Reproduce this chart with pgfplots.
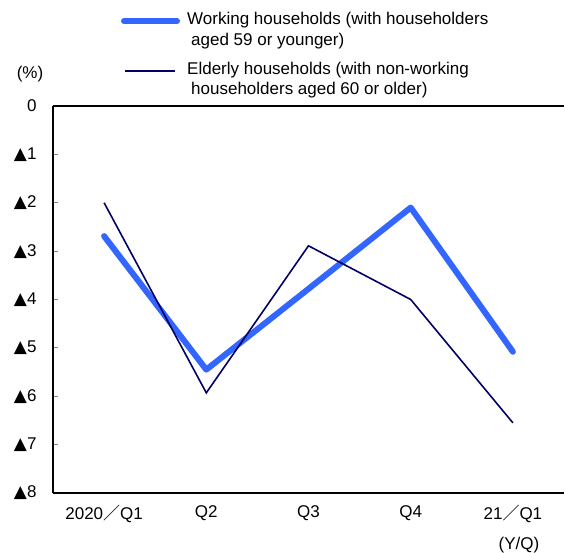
\documentclass[border=0pt]{standalone}
\usepackage{fontspec}
\setmainfont{Liberation Sans}
\newfontfamily\symfont{DejaVu Sans}
\newfontfamily\cjk{Noto Sans CJK JP}
\usepackage{pgfplots}
\pgfplotsset{compat=1.18}
\definecolor{workblue}{RGB}{51,102,255}
\definecolor{eldnavy}{RGB}{0,0,102}
\newcommand{\tri}{{\symfont\fontsize{17}{17}\selectfont ▲}}
\newcommand{\fs}{{\cjk ／}}

\begin{document}
\begin{tikzpicture}[x=1pt,y=1pt,font=\fontsize{17}{20}\selectfont]
\useasboundingbox (0,0) rectangle (565,552);
\begin{axis}[
  at={(53pt,59pt)}, anchor=south west,
  scale only axis, width=511pt, height=387pt,
  xmin=-0.5, xmax=4.5, ymin=-8, ymax=0,
  axis y line*=left,
  axis line style={line width=1.2pt},
  xtick={0,...,4},
  xticklabels={2020\fs Q1,Q2,Q3,Q4,21\fs Q1},
  major x tick style={draw=none},
  extra x ticks={-0.5,0.5,1.5,2.5,3.5,4.5},
  extra x tick labels={},
  extra x tick style={tick align=outside, major tick length=5pt,
    major tick style={line width=1.2pt, draw=black}},
  xtick pos=bottom,
  xticklabel style={font=\fontsize{17}{20}\selectfont, yshift=-9pt},
  ytick={-8,...,0},
  yticklabels={\tri8,\tri7,\tri6,\tri5,\tri4,\tri3,\tri2,\tri1,0},
  ytick pos=left,
  ytick align=inside,
  major tick length=5pt,
  major y tick style={line width=1.2pt},
  yticklabel style={font=\fontsize{17}{20}\selectfont, xshift=-13pt},
  clip=false,
]
% Working households (householders aged 59 or younger)
\addplot[workblue, line width=6pt, line cap=round, line join=round] coordinates {
  (0,-2.69) (1,-5.45) (2,-3.78) (3,-2.10) (4,-5.08)};
% Elderly households (non-working householders aged 60 or older)
\addplot[eldnavy, line width=1.6pt, line join=miter] coordinates {
  (0,-2.00) (1,-5.93) (2,-2.89) (3,-4.00) (4,-6.55)};
\node[anchor=center] at (axis cs:4.06,-8) [yshift=-52pt] {(Y/Q)};
\end{axis}
% legend
\draw[workblue, line width=6pt, line cap=round] (124,531) -- (177,531);
\draw[eldnavy, line width=1.8pt] (125,481) -- (175,481);
\node[anchor=base west, inner sep=0] at (187,527) {Working households (with householders};
\node[anchor=base west, inner sep=0] at (191,506) {aged 59 or younger)};
\node[anchor=base west, inner sep=0] at (187,477) {Elderly households (with non-working};
\node[anchor=base west, inner sep=0] at (191,457) {householders aged 60 or older)};
\node at (30,478) {(\%)};
\end{tikzpicture}
\end{document}
